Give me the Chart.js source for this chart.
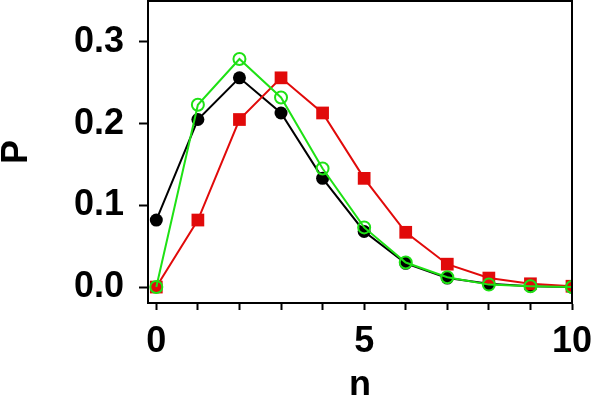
<!DOCTYPE html>
<html lang="en">
<head>
    <meta charset="UTF-8">
    <title>P(n)</title>
    <script src="https://cdn.jsdelivr.net/npm/chart.js"></script>
    <style>
        html, body { margin: 0; padding: 0; background: #fff; }
        #wrap { width: 591px; height: 395px; }
    </style>
</head>
<body>
    <div id="wrap"><canvas id="pChart"></canvas></div>
    <script>
        // values
        const nValues = [0, 1, 2, 3, 4, 5, 6, 7, 8, 9, 10];
        const blackP = [0.082, 0.205, 0.256, 0.213, 0.133, 0.068, 0.029, 0.011, 0.004, 0.001, 0.000];
        const redP = [0.000, 0.082, 0.205, 0.256, 0.213, 0.133, 0.067, 0.028, 0.011, 0.004, 0.001];
        const greenP = [0.000, 0.223, 0.279, 0.232, 0.145, 0.073, 0.030, 0.012, 0.003, 0.001, 0.000];
        const xTicks = [0, 1, 2, 3, 4, 5, 6, 7, 8, 9, 10];
        const xLabelled = [0, 5, 10];
        const yTicks = [0, 0.1, 0.2, 0.3];

        const toPoints = (ys) => nValues.map((n, i) => ({ x: n, y: ys[i] }));
        const bold = { family: 'Liberation Sans', size: 36, weight: 'bold' };

        // closed frame round the plot
        const boxPlugin = {
            id: 'box',
            afterDraw(chart) {
                const a = chart.chartArea;
                const c = chart.ctx;
                c.save();
                c.strokeStyle = '#000';
                c.lineWidth = 2;
                c.strokeRect(a.left, a.top, a.right - a.left, a.bottom - a.top);
                c.restore();
            }
        };

        const ctx = document.getElementById('pChart').getContext('2d');
        const pChart = new Chart(ctx, {
            type: 'scatter',
            data: {
                datasets: [{
                    label: 'black',
                    data: toPoints(blackP),
                    showLine: true,
                    borderColor: '#000',
                    backgroundColor: '#000',
                    borderWidth: 2,
                    pointStyle: 'circle',
                    pointRadius: 6.5,
                    pointBorderWidth: 0,
                    order: 3
                }, {
                    label: 'red',
                    data: toPoints(redP),
                    showLine: true,
                    borderColor: 'rgb(225, 10, 10)',
                    backgroundColor: 'rgb(225, 10, 10)',
                    borderWidth: 2,
                    pointStyle: 'rect',
                    pointRadius: 9,
                    pointBorderWidth: 0,
                    order: 2
                }, {
                    label: 'green',
                    data: toPoints(greenP),
                    showLine: true,
                    borderColor: 'rgb(30, 225, 20)',
                    backgroundColor: 'rgba(0, 0, 0, 0)',
                    pointBorderColor: 'rgb(30, 225, 20)',
                    borderWidth: 2,
                    pointStyle: 'circle',
                    pointRadius: 6,
                    pointBorderWidth: 2,
                    order: 1
                }]
            },
            options: {
                responsive: true,
                maintainAspectRatio: false,
                animation: false,
                layout: { autoPadding: false, padding: { top: 1, right: 19, left: 0, bottom: 0 } },
                plugins: {
                    legend: { display: false },
                    tooltip: { enabled: false }
                },
                scales: {
                    x: {
                        type: 'linear',
                        min: -0.2,
                        max: 10,
                        afterBuildTicks: (s) => { s.ticks = xTicks.map(v => ({ value: v })); },
                        afterFit: (s) => { s.height = 92; s.paddingLeft = 0; s.paddingRight = 0; },
                        ticks: {
                            color: '#000',
                            font: bold,
                            padding: 10,
                            maxRotation: 0,
                            autoSkip: false,
                            callback: (v) => xLabelled.includes(v) ? String(v) : ''
                        },
                        grid: {
                            drawOnChartArea: false,
                            tickLength: 7,
                            tickWidth: 2,
                            color: '#000'
                        },
                        border: { color: '#000', width: 2 },
                        title: {
                            display: true,
                            text: 'n',
                            color: '#000',
                            font: bold,
                            padding: { top: 0, bottom: -13 }
                        }
                    },
                    y: {
                        type: 'linear',
                        min: -0.0195,
                        max: 0.35,
                        afterBuildTicks: (s) => { s.ticks = yTicks.map(v => ({ value: v })); },
                        afterFit: (s) => { s.width = 148; s.paddingTop = 0; s.paddingBottom = 0; },
                        ticks: {
                            color: '#000',
                            font: bold,
                            padding: 15,
                            callback: (v) => v.toFixed(1)
                        },
                        grid: {
                            drawOnChartArea: false,
                            tickLength: 9,
                            tickWidth: 2,
                            color: '#000'
                        },
                        border: { color: '#000', width: 2 },
                        title: {
                            display: true,
                            text: 'P',
                            color: '#000',
                            font: bold,
                            padding: { top: -5, bottom: 0 }
                        }
                    }
                }
            },
            plugins: [boxPlugin]
        });
    </script>
</body>
</html>
